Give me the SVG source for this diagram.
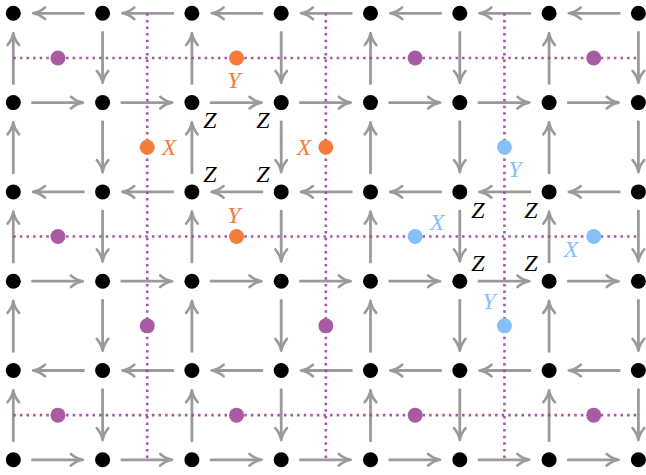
<svg xmlns="http://www.w3.org/2000/svg" width="646" height="475" viewBox="0 0 646 475">
<style>
.arr{stroke:#9a9a9a;stroke-width:2.8;fill:none;marker-end:url(#ah)}
.dot{stroke:#9c469c;stroke-opacity:0.9;stroke-width:2.6;stroke-dasharray:2.5 4.1;fill:none}
.n{fill:#000}
.pu{fill:#a85aa3}
.or{fill:#f57c3b}
.bl{fill:#85c0f8}
.lo{fill:#f57c3b}
.lbb{fill:#85c0f8}
</style>
<defs>
<marker id="ah" markerUnits="userSpaceOnUse" viewBox="-14 -8 18 16" markerWidth="18" markerHeight="16" refX="0" refY="0" orient="auto" overflow="visible">
<path d="M-10.5,-5.8 C-7,-2.8 -2.6,-0.6 1.5,0 C-2.6,0.6 -7,2.8 -10.5,5.8" fill="none" stroke="#9a9a9a" stroke-width="2.6" stroke-linecap="round" stroke-linejoin="round"/>
</marker>
</defs>
<rect width="646" height="475" fill="#fff"/>
<g id="connectors">
<line class="arr" x1="84.6" y1="13.3" x2="34.5" y2="13.3"/>
<line class="arr" x1="173.9" y1="13.3" x2="123.8" y2="13.3"/>
<line class="arr" x1="263.2" y1="13.3" x2="213.1" y2="13.3"/>
<line class="arr" x1="352.5" y1="13.3" x2="302.4" y2="13.3"/>
<line class="arr" x1="441.8" y1="13.3" x2="391.7" y2="13.3"/>
<line class="arr" x1="531.1" y1="13.3" x2="481.0" y2="13.3"/>
<line class="arr" x1="620.4" y1="13.3" x2="570.3" y2="13.3"/>
<line class="arr" x1="31.3" y1="102.6" x2="81.4" y2="102.6"/>
<line class="arr" x1="120.6" y1="102.6" x2="170.7" y2="102.6"/>
<line class="arr" x1="209.9" y1="102.6" x2="260.0" y2="102.6"/>
<line class="arr" x1="299.2" y1="102.6" x2="349.3" y2="102.6"/>
<line class="arr" x1="388.5" y1="102.6" x2="438.6" y2="102.6"/>
<line class="arr" x1="477.8" y1="102.6" x2="527.9" y2="102.6"/>
<line class="arr" x1="567.1" y1="102.6" x2="617.2" y2="102.6"/>
<line class="arr" x1="84.6" y1="191.9" x2="34.5" y2="191.9"/>
<line class="arr" x1="173.9" y1="191.9" x2="123.8" y2="191.9"/>
<line class="arr" x1="263.2" y1="191.9" x2="213.1" y2="191.9"/>
<line class="arr" x1="352.5" y1="191.9" x2="302.4" y2="191.9"/>
<line class="arr" x1="441.8" y1="191.9" x2="391.7" y2="191.9"/>
<line class="arr" x1="531.1" y1="191.9" x2="481.0" y2="191.9"/>
<line class="arr" x1="620.4" y1="191.9" x2="570.3" y2="191.9"/>
<line class="arr" x1="31.3" y1="281.2" x2="81.4" y2="281.2"/>
<line class="arr" x1="120.6" y1="281.2" x2="170.7" y2="281.2"/>
<line class="arr" x1="209.9" y1="281.2" x2="260.0" y2="281.2"/>
<line class="arr" x1="299.2" y1="281.2" x2="349.3" y2="281.2"/>
<line class="arr" x1="388.5" y1="281.2" x2="438.6" y2="281.2"/>
<line class="arr" x1="477.8" y1="281.2" x2="527.9" y2="281.2"/>
<line class="arr" x1="567.1" y1="281.2" x2="617.2" y2="281.2"/>
<line class="arr" x1="84.6" y1="370.5" x2="34.5" y2="370.5"/>
<line class="arr" x1="173.9" y1="370.5" x2="123.8" y2="370.5"/>
<line class="arr" x1="263.2" y1="370.5" x2="213.1" y2="370.5"/>
<line class="arr" x1="352.5" y1="370.5" x2="302.4" y2="370.5"/>
<line class="arr" x1="441.8" y1="370.5" x2="391.7" y2="370.5"/>
<line class="arr" x1="531.1" y1="370.5" x2="481.0" y2="370.5"/>
<line class="arr" x1="620.4" y1="370.5" x2="570.3" y2="370.5"/>
<line class="arr" x1="31.3" y1="459.8" x2="81.4" y2="459.8"/>
<line class="arr" x1="120.6" y1="459.8" x2="170.7" y2="459.8"/>
<line class="arr" x1="209.9" y1="459.8" x2="260.0" y2="459.8"/>
<line class="arr" x1="299.2" y1="459.8" x2="349.3" y2="459.8"/>
<line class="arr" x1="388.5" y1="459.8" x2="438.6" y2="459.8"/>
<line class="arr" x1="477.8" y1="459.8" x2="527.9" y2="459.8"/>
<line class="arr" x1="567.1" y1="459.8" x2="617.2" y2="459.8"/>
<line class="arr" x1="13.3" y1="84.6" x2="13.3" y2="34.5"/>
<line class="arr" x1="13.3" y1="173.9" x2="13.3" y2="123.8"/>
<line class="arr" x1="13.3" y1="263.2" x2="13.3" y2="213.1"/>
<line class="arr" x1="13.3" y1="352.5" x2="13.3" y2="302.4"/>
<line class="arr" x1="13.3" y1="441.8" x2="13.3" y2="391.7"/>
<line class="arr" x1="102.6" y1="31.3" x2="102.6" y2="81.4"/>
<line class="arr" x1="102.6" y1="120.6" x2="102.6" y2="170.7"/>
<line class="arr" x1="102.6" y1="209.9" x2="102.6" y2="260.0"/>
<line class="arr" x1="102.6" y1="299.2" x2="102.6" y2="349.3"/>
<line class="arr" x1="102.6" y1="388.5" x2="102.6" y2="438.6"/>
<line class="arr" x1="191.9" y1="84.6" x2="191.9" y2="34.5"/>
<line class="arr" x1="191.9" y1="173.9" x2="191.9" y2="123.8"/>
<line class="arr" x1="191.9" y1="263.2" x2="191.9" y2="213.1"/>
<line class="arr" x1="191.9" y1="352.5" x2="191.9" y2="302.4"/>
<line class="arr" x1="191.9" y1="441.8" x2="191.9" y2="391.7"/>
<line class="arr" x1="281.2" y1="31.3" x2="281.2" y2="81.4"/>
<line class="arr" x1="281.2" y1="120.6" x2="281.2" y2="170.7"/>
<line class="arr" x1="281.2" y1="209.9" x2="281.2" y2="260.0"/>
<line class="arr" x1="281.2" y1="299.2" x2="281.2" y2="349.3"/>
<line class="arr" x1="281.2" y1="388.5" x2="281.2" y2="438.6"/>
<line class="arr" x1="370.5" y1="84.6" x2="370.5" y2="34.5"/>
<line class="arr" x1="370.5" y1="173.9" x2="370.5" y2="123.8"/>
<line class="arr" x1="370.5" y1="263.2" x2="370.5" y2="213.1"/>
<line class="arr" x1="370.5" y1="352.5" x2="370.5" y2="302.4"/>
<line class="arr" x1="370.5" y1="441.8" x2="370.5" y2="391.7"/>
<line class="arr" x1="459.8" y1="31.3" x2="459.8" y2="81.4"/>
<line class="arr" x1="459.8" y1="120.6" x2="459.8" y2="170.7"/>
<line class="arr" x1="459.8" y1="209.9" x2="459.8" y2="260.0"/>
<line class="arr" x1="459.8" y1="299.2" x2="459.8" y2="349.3"/>
<line class="arr" x1="459.8" y1="388.5" x2="459.8" y2="438.6"/>
<line class="arr" x1="549.1" y1="84.6" x2="549.1" y2="34.5"/>
<line class="arr" x1="549.1" y1="173.9" x2="549.1" y2="123.8"/>
<line class="arr" x1="549.1" y1="263.2" x2="549.1" y2="213.1"/>
<line class="arr" x1="549.1" y1="352.5" x2="549.1" y2="302.4"/>
<line class="arr" x1="549.1" y1="441.8" x2="549.1" y2="391.7"/>
<line class="arr" x1="638.4" y1="31.3" x2="638.4" y2="81.4"/>
<line class="arr" x1="638.4" y1="120.6" x2="638.4" y2="170.7"/>
<line class="arr" x1="638.4" y1="209.9" x2="638.4" y2="260.0"/>
<line class="arr" x1="638.4" y1="299.2" x2="638.4" y2="349.3"/>
<line class="arr" x1="638.4" y1="388.5" x2="638.4" y2="438.6"/>
</g>
<g id="dual-lines">
<line class="dot" x1="13.3" y1="57.95" x2="638.4" y2="57.95"/>
<line class="dot" x1="13.3" y1="236.55" x2="638.4" y2="236.55"/>
<line class="dot" x1="13.3" y1="415.15" x2="638.4" y2="415.15"/>
<line class="dot" x1="147.25" y1="13.3" x2="147.25" y2="459.8"/>
<line class="dot" x1="325.85" y1="13.3" x2="325.85" y2="459.8"/>
<line class="dot" x1="504.45" y1="13.3" x2="504.45" y2="459.8"/>
</g>
<g id="vertices">
<g id="n-0-0"><circle class="n" cx="13.3" cy="13.3" r="7.5"/></g>
<g id="n-0-1"><circle class="n" cx="102.6" cy="13.3" r="7.5"/></g>
<g id="n-0-2"><circle class="n" cx="191.9" cy="13.3" r="7.5"/></g>
<g id="n-0-3"><circle class="n" cx="281.2" cy="13.3" r="7.5"/></g>
<g id="n-0-4"><circle class="n" cx="370.5" cy="13.3" r="7.5"/></g>
<g id="n-0-5"><circle class="n" cx="459.8" cy="13.3" r="7.5"/></g>
<g id="n-0-6"><circle class="n" cx="549.1" cy="13.3" r="7.5"/></g>
<g id="n-0-7"><circle class="n" cx="638.4" cy="13.3" r="7.5"/></g>
<g id="n-1-0"><circle class="n" cx="13.3" cy="102.6" r="7.5"/></g>
<g id="n-1-1"><circle class="n" cx="102.6" cy="102.6" r="7.5"/></g>
<g id="n-1-2"><circle class="n" cx="191.9" cy="102.6" r="7.5"/></g>
<g id="n-1-3"><circle class="n" cx="281.2" cy="102.6" r="7.5"/></g>
<g id="n-1-4"><circle class="n" cx="370.5" cy="102.6" r="7.5"/></g>
<g id="n-1-5"><circle class="n" cx="459.8" cy="102.6" r="7.5"/></g>
<g id="n-1-6"><circle class="n" cx="549.1" cy="102.6" r="7.5"/></g>
<g id="n-1-7"><circle class="n" cx="638.4" cy="102.6" r="7.5"/></g>
<g id="n-2-0"><circle class="n" cx="13.3" cy="191.9" r="7.5"/></g>
<g id="n-2-1"><circle class="n" cx="102.6" cy="191.9" r="7.5"/></g>
<g id="n-2-2"><circle class="n" cx="191.9" cy="191.9" r="7.5"/></g>
<g id="n-2-3"><circle class="n" cx="281.2" cy="191.9" r="7.5"/></g>
<g id="n-2-4"><circle class="n" cx="370.5" cy="191.9" r="7.5"/></g>
<g id="n-2-5"><circle class="n" cx="459.8" cy="191.9" r="7.5"/></g>
<g id="n-2-6"><circle class="n" cx="549.1" cy="191.9" r="7.5"/></g>
<g id="n-2-7"><circle class="n" cx="638.4" cy="191.9" r="7.5"/></g>
<g id="n-3-0"><circle class="n" cx="13.3" cy="281.2" r="7.5"/></g>
<g id="n-3-1"><circle class="n" cx="102.6" cy="281.2" r="7.5"/></g>
<g id="n-3-2"><circle class="n" cx="191.9" cy="281.2" r="7.5"/></g>
<g id="n-3-3"><circle class="n" cx="281.2" cy="281.2" r="7.5"/></g>
<g id="n-3-4"><circle class="n" cx="370.5" cy="281.2" r="7.5"/></g>
<g id="n-3-5"><circle class="n" cx="459.8" cy="281.2" r="7.5"/></g>
<g id="n-3-6"><circle class="n" cx="549.1" cy="281.2" r="7.5"/></g>
<g id="n-3-7"><circle class="n" cx="638.4" cy="281.2" r="7.5"/></g>
<g id="n-4-0"><circle class="n" cx="13.3" cy="370.5" r="7.5"/></g>
<g id="n-4-1"><circle class="n" cx="102.6" cy="370.5" r="7.5"/></g>
<g id="n-4-2"><circle class="n" cx="191.9" cy="370.5" r="7.5"/></g>
<g id="n-4-3"><circle class="n" cx="281.2" cy="370.5" r="7.5"/></g>
<g id="n-4-4"><circle class="n" cx="370.5" cy="370.5" r="7.5"/></g>
<g id="n-4-5"><circle class="n" cx="459.8" cy="370.5" r="7.5"/></g>
<g id="n-4-6"><circle class="n" cx="549.1" cy="370.5" r="7.5"/></g>
<g id="n-4-7"><circle class="n" cx="638.4" cy="370.5" r="7.5"/></g>
<g id="n-5-0"><circle class="n" cx="13.3" cy="459.8" r="7.5"/></g>
<g id="n-5-1"><circle class="n" cx="102.6" cy="459.8" r="7.5"/></g>
<g id="n-5-2"><circle class="n" cx="191.9" cy="459.8" r="7.5"/></g>
<g id="n-5-3"><circle class="n" cx="281.2" cy="459.8" r="7.5"/></g>
<g id="n-5-4"><circle class="n" cx="370.5" cy="459.8" r="7.5"/></g>
<g id="n-5-5"><circle class="n" cx="459.8" cy="459.8" r="7.5"/></g>
<g id="n-5-6"><circle class="n" cx="549.1" cy="459.8" r="7.5"/></g>
<g id="n-5-7"><circle class="n" cx="638.4" cy="459.8" r="7.5"/></g>
</g>
<g id="edge-sites" font-family="'Liberation Serif', 'Times New Roman', serif" font-style="italic" font-size="24" text-anchor="middle">
<g id="e-h0-0"><circle class="pu" cx="57.95" cy="57.95" r="7.5"/></g>
<g id="e-h0-1"><circle class="or" cx="236.55" cy="57.95" r="7.5"/><text class="lo" x="234" y="88">Y</text></g>
<g id="e-h0-2"><circle class="pu" cx="415.15" cy="57.95" r="7.5"/></g>
<g id="e-h0-3"><circle class="pu" cx="593.75" cy="57.95" r="7.5"/></g>
<g id="e-h1-0"><circle class="pu" cx="57.95" cy="236.55" r="7.5"/></g>
<g id="e-h1-1"><circle class="or" cx="236.55" cy="236.55" r="7.5"/><text class="lo" x="234" y="223">Y</text></g>
<g id="e-h1-2"><circle class="bl" cx="415.15" cy="236.55" r="7.5"/><text class="lbb" x="437" y="230">X</text></g>
<g id="e-h1-3"><circle class="bl" cx="593.75" cy="236.55" r="7.5"/><text class="lbb" x="571" y="257">X</text></g>
<g id="e-h2-0"><circle class="pu" cx="57.95" cy="415.15" r="7.5"/></g>
<g id="e-h2-1"><circle class="pu" cx="236.55" cy="415.15" r="7.5"/></g>
<g id="e-h2-2"><circle class="pu" cx="415.15" cy="415.15" r="7.5"/></g>
<g id="e-h2-3"><circle class="pu" cx="593.75" cy="415.15" r="7.5"/></g>
<g id="e-v0-0"><circle class="or" cx="147.25" cy="147.25" r="7.5"/><text class="lo" x="169" y="155">X</text></g>
<g id="e-v0-1"><circle class="pu" cx="147.25" cy="325.85" r="7.5"/></g>
<g id="e-v1-0"><circle class="or" cx="325.85" cy="147.25" r="7.5"/><text class="lo" x="304" y="155">X</text></g>
<g id="e-v1-1"><circle class="pu" cx="325.85" cy="325.85" r="7.5"/></g>
<g id="e-v2-0"><circle class="bl" cx="504.45" cy="147.25" r="7.5"/><text class="lbb" x="515" y="177">Y</text></g>
<g id="e-v2-1"><circle class="bl" cx="504.45" cy="325.85" r="7.5"/><text class="lbb" x="489" y="309">Y</text></g>
</g>
<g id="z-labels" font-family="'Liberation Serif', 'Times New Roman', serif" font-style="italic" font-size="24" text-anchor="middle" fill="#000">
<text x="210" y="128">Z</text>
<text x="263" y="128">Z</text>
<text x="210" y="182">Z</text>
<text x="263" y="182">Z</text>
<text x="478" y="218">Z</text>
<text x="531" y="218">Z</text>
<text x="478" y="271">Z</text>
<text x="531" y="271">Z</text>
</g>
</svg>
